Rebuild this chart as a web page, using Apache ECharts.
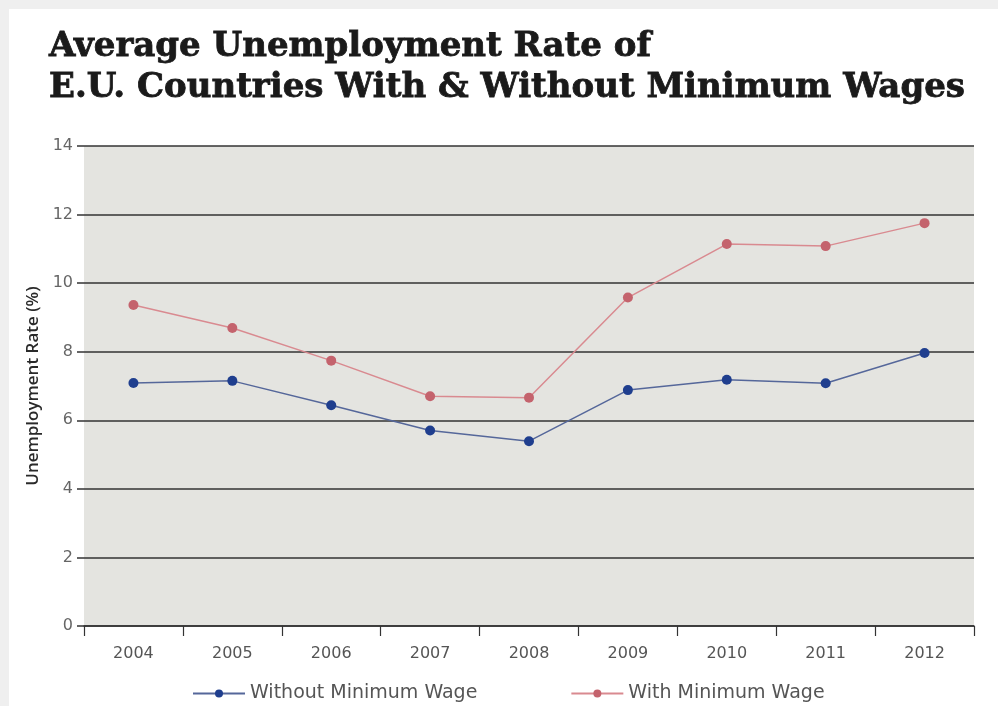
<!DOCTYPE html>
<html>
<head>
<meta charset="utf-8">
<script src="https://cdn.jsdelivr.net/npm/echarts@6/dist/echarts.min.js"></script>
<style>
  html,body{margin:0;padding:0;background:#fff;}
  #chart{width:998px;height:706px;}
</style>
</head>
<body>
<div id="chart"></div>
<script>
// chart data
const years = ['2004','2005','2006','2007','2008','2009','2010','2011','2012'];
const withoutMinWage = [7.09, 7.15, 6.44, 5.70, 5.39, 6.88, 7.18, 7.08, 7.96];
const withMinWage = [9.36, 8.69, 7.74, 6.70, 6.66, 9.58, 11.14, 11.08, 11.75];
const yTicks = { min: 0, max: 14, step: 2 };

const chart = echarts.init(document.getElementById('chart'), null, { renderer: 'canvas' });

const option = {
    backgroundColor: '#fff',
    animation: false,
    title: {
        text: 'Average Unemployment Rate of\nE.U. Countries With & Without Minimum Wages',
        left: 44,
        top: 22,
        textStyle: {
            fontFamily: 'DejaVu Serif',
            fontWeight: 'bold',
            fontSize: 34,
            lineHeight: 41,
            color: '#1a1a1a',
            textBorderColor: '#1a1a1a',
            textBorderWidth: 0.8
        }
    },
    graphic: [
        { type: 'rect', left: 0, top: 0, shape: { width: 998, height: 9 }, style: { fill: '#efefef' }, silent: true },
        { type: 'rect', left: 0, top: 0, shape: { width: 9, height: 706 }, style: { fill: '#efefef' }, silent: true }
    ],
    grid: {
        left: 84,
        right: 24,
        top: 146,
        bottom: 80,
        show: true,
        backgroundColor: '#e4e4e0',
        borderWidth: 0
    },
    legend: {
        top: 684,
        left: 192,
        padding: 0,
        itemWidth: 52,
        itemHeight: 10,
        itemGap: 93,
        textStyle: {
            fontFamily: 'DejaVu Sans',
            fontSize: 19,
            color: '#555'
        },
        data: ['Without Minimum Wage', 'With Minimum Wage']
    },
    xAxis: {
        type: 'category',
        data: years,
        boundaryGap: true,
        axisLine: { lineStyle: { color: '#333', width: 1.5 } },
        axisTick: { show: true, length: 10, lineStyle: { color: '#333', width: 1.2 } },
        axisLabel: {
            fontFamily: 'DejaVu Sans',
            fontSize: 16,
            color: '#555',
            margin: 20
        }
    },
    yAxis: {
        type: 'value',
        min: yTicks.min,
        max: yTicks.max,
        interval: yTicks.step,
        name: 'Unemployment Rate (%)',
        nameLocation: 'middle',
        nameGap: 37,
        nameTextStyle: {
            fontFamily: 'Open Sans',
            fontSize: 17,
            fontWeight: 600,
            color: '#2a2a2a'
        },
        axisLine: { show: false },
        axisTick: { show: true, length: 7, lineStyle: { color: '#333', width: 1.5 } },
        axisLabel: {
            fontFamily: 'DejaVu Sans',
            fontSize: 16,
            color: '#666',
            margin: 11
        },
        splitLine: { lineStyle: { color: '#333', width: 1.5 } }
    },
    series: [
        {
            name: 'Without Minimum Wage',
            type: 'line',
            data: withoutMinWage,
            symbol: 'circle',
            symbolSize: 10,
            lineStyle: { color: '#55679a', width: 1.5 },
            itemStyle: { color: '#1f3e8e' }
        },
        {
            name: 'With Minimum Wage',
            type: 'line',
            data: withMinWage,
            symbol: 'circle',
            symbolSize: 10,
            lineStyle: { color: '#d98a90', width: 1.5 },
            itemStyle: { color: '#c4636d' }
        }
    ]
};

chart.setOption(option);
</script>
</body>
</html>
